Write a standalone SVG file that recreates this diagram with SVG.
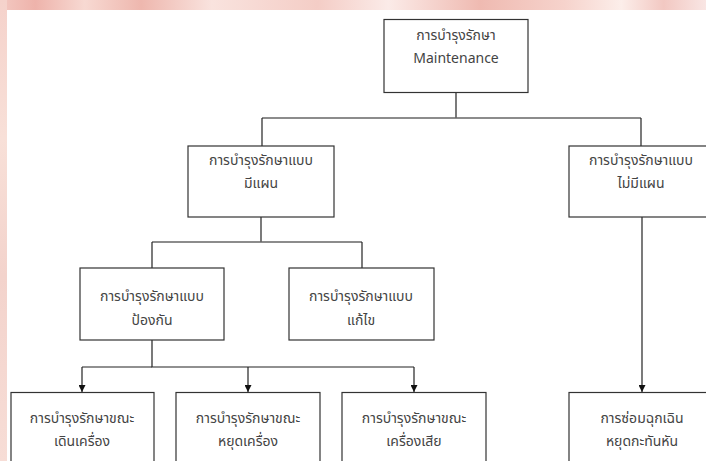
<svg xmlns="http://www.w3.org/2000/svg" width="706" height="461" viewBox="0 0 706 461">
  <defs>
    <linearGradient id="topbg" x1="0" y1="0" x2="1" y2="0">
      <stop offset="0" stop-color="#f3c9c2"/>
      <stop offset="0.05" stop-color="#eeb3ab"/>
      <stop offset="0.12" stop-color="#f7d9d2"/>
      <stop offset="0.2" stop-color="#eeb7ae"/>
      <stop offset="0.3" stop-color="#f9e3de"/>
      <stop offset="0.45" stop-color="#f4cdc6"/>
      <stop offset="0.55" stop-color="#fbebe8"/>
      <stop offset="0.68" stop-color="#efbab1"/>
      <stop offset="0.8" stop-color="#f6d3cc"/>
      <stop offset="0.88" stop-color="#fceeea"/>
      <stop offset="0.94" stop-color="#f2c8c2"/>
      <stop offset="1" stop-color="#f9e6e4"/>
    </linearGradient>
    <linearGradient id="leftbg" x1="0" y1="0" x2="0" y2="1">
      <stop offset="0" stop-color="#f5d2cb"/>
      <stop offset="0.3" stop-color="#f8e0d8"/>
      <stop offset="0.6" stop-color="#f3d3cc"/>
      <stop offset="1" stop-color="#f7ddd6"/>
    </linearGradient>
    <marker id="arr" viewBox="0 0 8 8" refX="8" refY="4" markerWidth="7" markerHeight="7" markerUnits="userSpaceOnUse" orient="auto">
      <path d="M0,0 L8,4 L0,8 Z" fill="#111"/>
    </marker>
  </defs>
  <style>
    .box { fill: #ffffff; stroke: #333333; stroke-width: 1.2; }
    .t { font-family: "Noto Sans Thai", "Leelawadee UI", Tahoma, "Noto Sans", "DejaVu Sans", sans-serif; font-size: 14px; fill: #444444; text-anchor: middle; }
    .ln { fill: none; stroke: #222222; stroke-width: 1.2; }
    .hl { fill: none; stroke: #666666; stroke-width: 1.6; }
  </style>
  <rect x="0" y="0" width="706" height="461" fill="#ffffff"/>
  <rect x="0" y="0" width="706" height="10" fill="url(#topbg)"/>
  <rect x="0" y="0" width="7" height="461" fill="url(#leftbg)"/>

  <g id="connectors">
    <path class="ln" d="M456,92 V118"/>
    <path class="hl" d="M262,118 H641"/>
    <path class="ln" d="M262,118 V146"/>
    <path class="ln" d="M641,118 V146"/>
    <path class="ln" d="M261,217 V242"/>
    <path class="hl" d="M152,242 H362"/>
    <path class="ln" d="M152,242 V268"/>
    <path class="ln" d="M362,242 V268"/>
    <path class="ln" d="M152,340 V367 H414"/>
    <path class="ln" d="M82,367 H152"/>
    <path class="ln" d="M82,367 V392" marker-end="url(#arr)"/>
    <path class="ln" d="M248,367 V392" marker-end="url(#arr)"/>
    <path class="ln" d="M414,367 V392" marker-end="url(#arr)"/>
    <path class="ln" d="M642,217 V392" marker-end="url(#arr)"/>
  </g>

  <g id="maintenance">
    <rect class="box" x="384" y="19.5" width="144" height="73"/>
    <text class="t" x="456" y="40">การบำรุงรักษา</text>
    <text class="t" x="456" y="63">Maintenance</text>
  </g>
  <g id="planned">
    <rect class="box" x="188" y="146" width="146" height="71"/>
    <text class="t" x="261" y="165">การบำรุงรักษาแบบ</text>
    <text class="t" x="261" y="188">มีแผน</text>
  </g>
  <g id="unplanned">
    <rect class="box" x="569" y="146" width="146" height="71"/>
    <text class="t" x="641" y="165">การบำรุงรักษาแบบ</text>
    <text class="t" x="641" y="188">ไม่มีแผน</text>
  </g>
  <g id="preventive">
    <rect class="box" x="80" y="268" width="144" height="72"/>
    <text class="t" x="152" y="301">การบำรุงรักษาแบบ</text>
    <text class="t" x="152" y="325">ป้องกัน</text>
  </g>
  <g id="corrective">
    <rect class="box" x="289" y="268" width="145" height="72"/>
    <text class="t" x="361" y="301">การบำรุงรักษาแบบ</text>
    <text class="t" x="361" y="325">แก้ไข</text>
  </g>
  <g id="running">
    <rect class="box" x="11" y="392.5" width="143" height="80"/>
    <text class="t" x="82" y="423">การบำรุงรักษาขณะ</text>
    <text class="t" x="82" y="446">เดินเครื่อง</text>
  </g>
  <g id="shutdown">
    <rect class="box" x="176" y="392.5" width="144" height="80"/>
    <text class="t" x="248" y="423">การบำรุงรักษาขณะ</text>
    <text class="t" x="248" y="446">หยุดเครื่อง</text>
  </g>
  <g id="breakdown">
    <rect class="box" x="342" y="392.5" width="144" height="80"/>
    <text class="t" x="414" y="423">การบำรุงรักษาขณะ</text>
    <text class="t" x="414" y="446">เครื่องเสีย</text>
  </g>
  <g id="emergency">
    <rect class="box" x="569" y="392.5" width="146" height="80"/>
    <text class="t" x="642" y="423">การซ่อมฉุกเฉิน</text>
    <text class="t" x="642" y="446">หยุดกะทันหัน</text>
  </g>
</svg>
